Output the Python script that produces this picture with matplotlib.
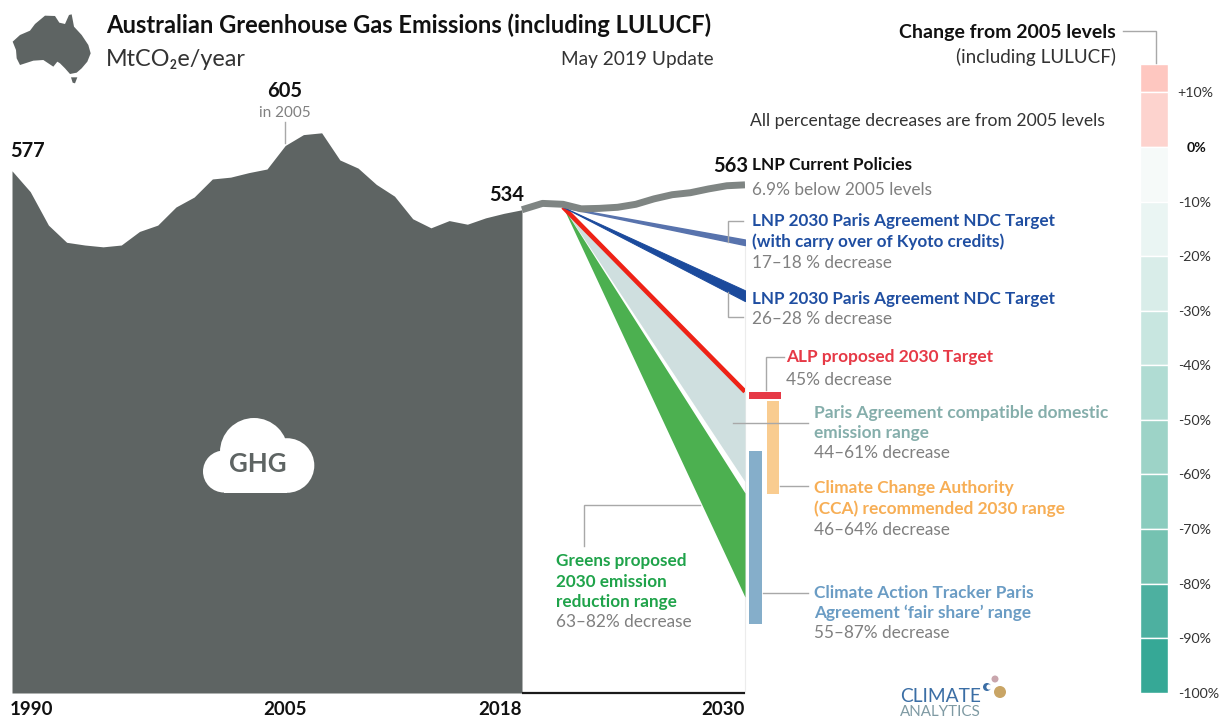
import matplotlib
matplotlib.use("Agg")
import matplotlib.pyplot as plt
import numpy as np
from matplotlib.patches import Circle, Polygon, Rectangle
from matplotlib.transforms import ScaledTranslation

plt.rcParams['font.family'] = ['Lato', 'DejaVu Sans']

W, H = 1223, 719
BASE_PX = 693
PX_PER_MT = 0.905

# ---------- data ----------
hist_years = list(range(1990, 2019))
hist_vals = [577, 554, 517, 498, 495, 493, 495, 510, 517, 537, 548, 568, 570, 575, 579,
             605, 617, 619, 589, 580, 562, 549, 524, 514, 522, 518, 525, 530, 534]
proj_years = list(range(2018, 2029)) + [2029, 2030]
proj_vals = [534, 541, 540, 535, 535.5, 536.7, 540, 546, 550.6, 552.8, 557, 560.5, 561.5]
start_year = 2020
start_val = 537
end_year = 2030
lnp_carry = (501, 495)
lnp_target = (445, 433)
alp_target = 333
paris_range = (333, 233.5)
greens_range = (221, 106)
cca_range = (323, 219.5)
cat_range = (267.7, 76.7)

x_years = [1990, 2018, 2020, 2030]
x_pixels = [12, 522, 563, 745]
xtick_years = [1990, 2005, 2018, 2030]

scale_edges = [15.2, 10, 0, -10, -20, -30, -40, -50, -60, -70, -80, -90, -100]
scale_colors = ['#fec7c0', '#fdd3ce', '#f6faf9', '#eaf5f3', '#d9ede9', '#c8e6e0', '#b0dcd3',
                '#9dd3c7', '#8accbe', '#75c2b1', '#4db0a0', '#36a896']
scale_ticks = [10, 0, -10, -20, -30, -40, -50, -60, -70, -80, -90, -100]
scale_labels = ['+10%', '0%', '-10%', '-20%', '-30%', '-40%', '-50%', '-60%', '-70%', '-80%', '-90%', '-100%']

GREY = '#808080'
LEAD = '#a8a8a8'
AREA = '#5e6463'

fig = plt.figure(figsize=(W / 100, H / 100), dpi=100, facecolor='white')


def axes_px(x0, y0, x1, y1, **kw):
    return fig.add_axes([x0 / W, 1 - y1 / H, (x1 - x0) / W, (y1 - y0) / H], **kw)


# ---------- main chart ----------
ax = axes_px(12, 0, 745, BASE_PX)
ax.patch.set_alpha(0)
ax.set_xscale('function', functions=(lambda v: np.interp(v, x_years, x_pixels),
                                     lambda p: np.interp(p, x_pixels, x_years)))
ax.set_xlim(1990, 2030)
ax.set_ylim(0, BASE_PX / PX_PER_MT)
for s in ax.spines.values():
    s.set_visible(False)
ax.set_yticks([])
ax.minorticks_off()
ax.set_xticks(xtick_years)
ax.set_xticklabels([str(y) for y in xtick_years], fontsize=13.5, fontweight='bold', color='#111111')
ax.tick_params(axis='x', length=0, pad=6)
ax.tick_params(axis='x', which='minor', length=0)
for lab, ha in zip(ax.get_xticklabels(), ['left', 'center', 'right', 'right']):
    lab.set_ha(ha)
first = ax.get_xticklabels()[0]
first.set_transform(first.get_transform() + ScaledTranslation(-2.5 / 100, 0, fig.dpi_scale_trans))

ax.fill_between(hist_years, 0, hist_vals, color=AREA, lw=0, zorder=2)
ax.plot([2018, 2030], [0, 0], color='#1a1a1a', lw=1.6, clip_on=False, solid_capstyle='butt', zorder=3)
ax.plot([2030, 2030], [0, 500], color='#ececec', lw=0.8, clip_on=False, zorder=1)

ax.fill_between([start_year, end_year], [start_val, paris_range[0]], [start_val, paris_range[1]],
                color='#cfdfdf', lw=0, zorder=2)
ax.fill_between([start_year, end_year], [start_val, greens_range[0]], [start_val, greens_range[1]],
                color='#4cb050', lw=0, zorder=3)
ax.plot([start_year, end_year], [start_val, alp_target], color='#ee2216', lw=3.3, solid_capstyle='butt', zorder=4)
ax.fill_between([start_year, end_year], [start_val, lnp_carry[0]], [start_val, lnp_carry[1]],
                fc='#5873ad', ec='#5873ad', lw=1.1, zorder=4)
ax.fill_between([start_year, end_year], [start_val, lnp_target[0]], [start_val, lnp_target[1]],
                fc='#1b4a9c', ec='#1b4a9c', lw=0.7, zorder=4)
ax.plot(proj_years, proj_vals, color='#7f8583', lw=5, solid_capstyle='butt', solid_joinstyle='round', zorder=5)

# ---------- range bars beside 2030 ----------
axr = axes_px(745, 0, 790, BASE_PX)
axr.patch.set_alpha(0)
axr.set_axis_off()
axr.set_xlim(0, 45)
axr.set_ylim(0, BASE_PX / PX_PER_MT)
axr.barh((cat_range[0] + cat_range[1]) / 2, 12.7, cat_range[0] - cat_range[1], left=4, color='#85aeca', lw=0)
axr.barh((cca_range[0] + cca_range[1]) / 2, 12.7, cca_range[0] - cca_range[1], left=21.6, color='#f9cc90', lw=0)
axr.barh(alp_target - 4, 32, 7.2, left=3.7, color='#e63946', lw=0)

# ---------- colour scale ----------
axs = axes_px(1140, 64, 1168, 692.7)
axs.patch.set_alpha(0)
axs.set_xlim(0, 1)
axs.set_ylim(-100, 15.2)
for s in axs.spines.values():
    s.set_visible(False)
axs.set_xticks([])
for top, bot, col in zip(scale_edges[:-1], scale_edges[1:], scale_colors):
    axs.bar(0.5, top - bot, 1, bottom=bot, color=col, edgecolor='white', lw=1.0)
axs.yaxis.tick_right()
axs.set_yticks(scale_ticks)
axs.set_yticklabels(scale_labels, fontsize=10.2, color='#333333')
axs.tick_params(axis='y', length=0, pad=7)
for t, lab in zip(axs.yaxis.get_major_ticks(), scale_labels):
    if lab == '0%':
        t.set_pad(13.7)
        t.label2.set_fontweight('bold')
        t.label2.set_color('#111111')

# ---------- overlay (pixel coordinates) ----------
ov = axes_px(0, 0, W, H)
ov.patch.set_alpha(0)
ov.set_axis_off()
ov.set_xlim(0, W)
ov.set_ylim(H, 0)


def T(x, y, s, size=12, color=GREY, weight='normal', ha='left'):
    ov.text(x, y, s, fontsize=size, color=color, fontweight=weight, ha=ha, va='baseline')


def L(xs, ys):
    ov.plot(xs, ys, color=LEAD, lw=1.0, solid_joinstyle='miter')


BODY = 12.4
HEAD = 12.35
COL = 12.45
T(106, 33, 'Australian Greenhouse Gas Emissions (including LULUCF)', 17.15, '#111111', 'bold')
T(106, 66, 'MtCO₂e/year', 16.8, '#333333')
T(714, 65, 'May 2019 Update', 13.7, '#333333', ha='right')
T(285, 97, '605', 14.5, '#111111', 'bold', 'center')
T(285, 117, 'in 2005', 11, GREY, ha='center')
T(10, 157, '577', 14.5, '#111111', 'bold')
T(507, 201, '534', 14.5, '#111111', 'bold', 'center')
T(748, 172, '563', 14.5, '#111111', 'bold', 'right')
T(752, 170, 'LNP Current Policies', 12.4, '#111111', 'bold')
T(752, 195, '6.9% below 2005 levels', BODY)
T(750, 126, 'All percentage decreases are from 2005 levels', 12.65, '#333333')
BLUE = '#1f4ea1'
T(752, 226, 'LNP 2030 Paris Agreement NDC Target', HEAD, BLUE, 'bold')
T(752, 247, '(with carry over of Kyoto credits)', HEAD, BLUE, 'bold')
T(752, 268, '17–18 % decrease', BODY)
T(752, 304, 'LNP 2030 Paris Agreement NDC Target', HEAD, BLUE, 'bold')
T(752, 324, '26–28 % decrease', BODY)
T(786, 362, 'ALP proposed 2030 Target', COL, '#e63946', 'bold')
T(786, 385, '45% decrease', BODY)
T(814, 418, 'Paris Agreement compatible domestic', COL + 0.1, '#85aeab', 'bold')
T(814, 438, 'emission range', COL, '#85aeab', 'bold')
T(814, 458, '44–61% decrease', BODY)
T(814, 493, 'Climate Change Authority', COL, '#f7ae55', 'bold')
T(814, 514, '(CCA) recommended 2030 range', COL, '#f7ae55', 'bold')
T(814, 535, '46–64% decrease', BODY)
T(814, 598, 'Climate Action Tracker Paris', COL, '#6a9cc4', 'bold')
T(814, 618, 'Agreement ‘fair share’ range', COL, '#6a9cc4', 'bold')
T(814, 638, '55–87% decrease', BODY)
T(556, 566, 'Greens proposed', HEAD, '#1fa34a', 'bold')
T(556, 587, '2030 emission', HEAD, '#1fa34a', 'bold')
T(556, 607, 'reduction range', HEAD, '#1fa34a', 'bold')
T(556, 627, '63–82% decrease', BODY)
T(1116, 38, 'Change from 2005 levels', 14, '#111111', 'bold', 'right')
T(1116, 63, '(including LULUCF)', 13.6, '#333333', ha='right')

L([285, 285], [122, 143])
L([1123, 1156, 1156], [31, 31, 63])
L([743, 727.7, 727.7], [220.7, 220.7, 241.7])
L([727.7, 727.7, 743], [291.7, 317, 317])
L([784, 766, 766], [356.7, 356.7, 390])
L([732.7, 808], [422.7, 422.7])
L([780, 808], [485.7, 485.7])
L([763, 808], [592.7, 592.7])
L([700, 584, 584], [505, 505, 545.7])

# cloud icon
for cx, cy, r in [(224, 471.5, 21), (254, 452, 34), (287, 465.5, 27.3)]:
    ov.add_patch(Circle((cx, cy), r, fc='white', ec='none'))
ov.add_patch(Rectangle((224, 455), 63, 37.8, fc='white', ec='none'))
T(257.5, 472, 'GHG', 18.5, AREA, 'bold', 'center')

# Australia silhouette
aus = [(38, 125), (60, 105), (90, 92), (105, 72), (135, 47), (165, 48), (178, 68), (195, 72),
       (207, 45), (215, 43), (222, 80), (245, 105), (265, 135), (272, 160), (262, 185),
       (245, 205), (230, 218), (210, 222), (195, 205), (180, 190), (172, 185), (160, 200),
       (130, 180), (100, 182), (60, 195), (50, 175), (48, 150)]
tas = [(213, 232), (232, 232), (225, 250), (218, 248)]
for poly in (aus, tas):
    ov.add_patch(Polygon(np.array(poly) / 3, closed=True, fc=AREA, ec='none'))

# logo
ov.text(900, 702, 'CLIMATE', fontsize=13.8, color='#3b6ea5', ha='left', va='baseline')
ov.text(900, 716, 'ANALYTICS', fontsize=10.9, color='#7f9aa3', ha='left', va='baseline')
ov.add_patch(Circle((995, 679), 3.5, fc='#c9a6ad', ec='none'))
ov.add_patch(Circle((1000, 692), 6, fc='#c9a565', ec='none'))
ov.add_patch(Circle((987, 687), 4, fc='#3b6ea5', ec='none'))
ov.add_patch(Circle((989, 687), 2.6, fc='white', ec='none'))

fig.savefig('out.png', dpi=100)
